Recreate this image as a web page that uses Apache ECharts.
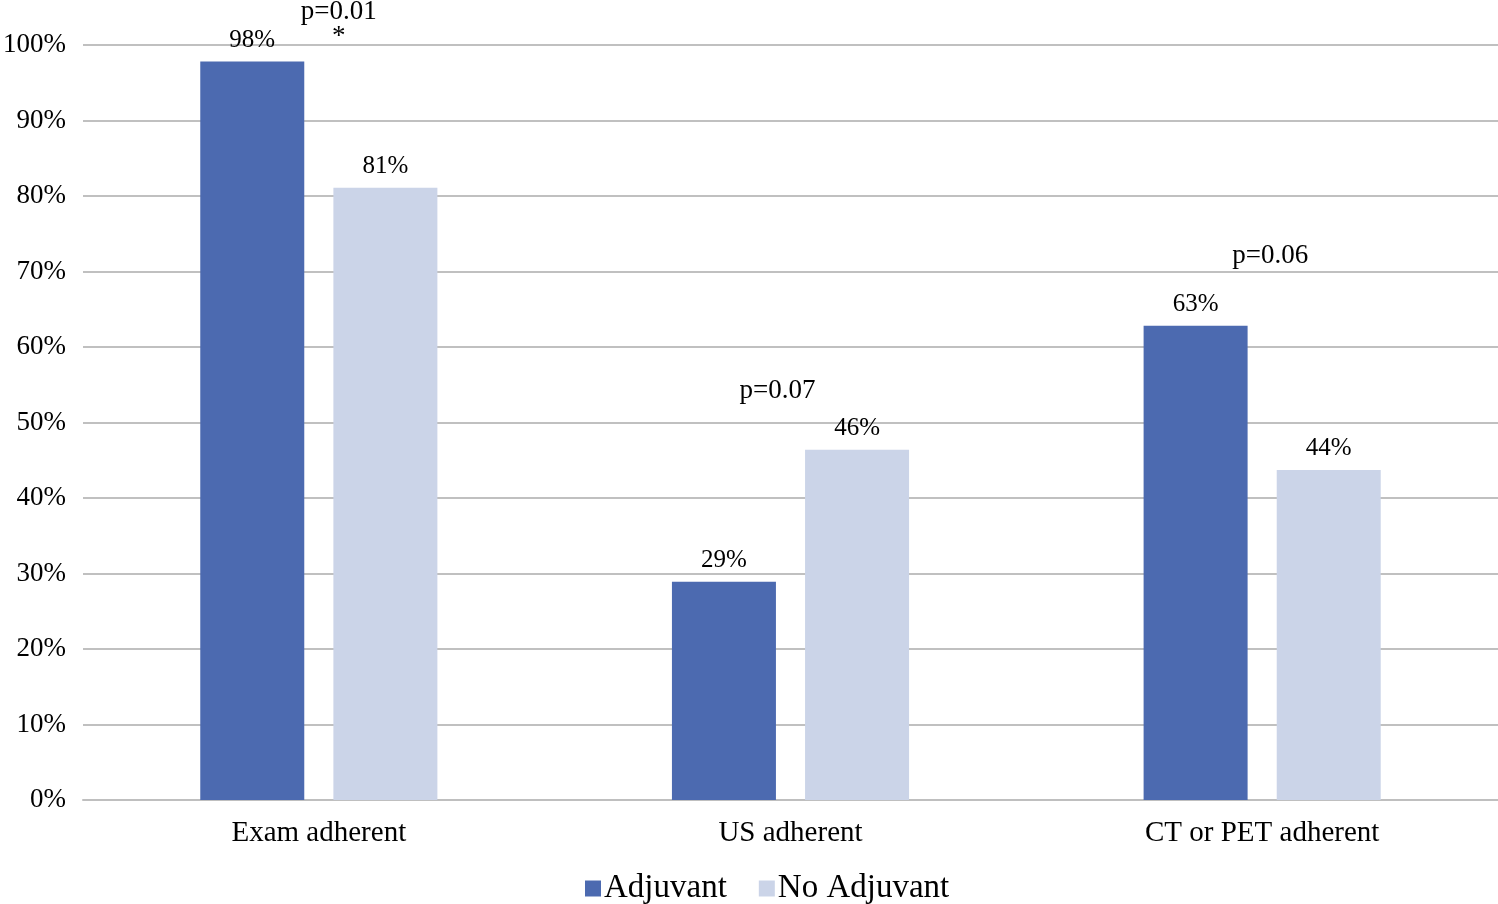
<!DOCTYPE html>
<html>
<head>
<meta charset="utf-8">
<script src="https://cdn.jsdelivr.net/npm/echarts@6/dist/echarts.min.js"></script>
<style>html,body{margin:0;padding:0;background:#fff;}#c{width:1498px;height:904px;}</style>
</head>
<body>
<div id="c"></div>
<script>
const categories = ['Exam adherent', 'US adherent', 'CT or PET adherent'];
const adjuvant = [97.8, 28.9, 62.8];
const noAdjuvant = [81.1, 46.4, 43.7];
const yTicks = [0, 10, 20, 30, 40, 50, 60, 70, 80, 90, 100];
const pCategories = ['Exam adherent', 'US adherent', 'CT or PET adherent'];
const pTexts = ['p=0.01\n*', 'p=0.07', 'p=0.06'];
const pLevels = [101.5, 54.2, 72.0];

const FONT = '"Liberation Serif", "Times New Roman", serif';
const chart = echarts.init(document.getElementById('c'));
const labelOpt = {
  show: true, position: 'top', distance: 9,
  fontFamily: FONT, fontSize: 25, color: '#000',
  formatter: p => Math.round(p.value) + '%'
};
chart.setOption({
  animation: false,
  textStyle: { fontFamily: FONT },
  grid: { left: 80, right: -4, top: 45, bottom: 104, containLabel: false },
  legend: {
    bottom: -6, left: 580, itemWidth: 16, itemHeight: 16, itemGap: 32,
    icon: 'rect',
    textStyle: { fontFamily: FONT, fontSize: 33, color: '#000', padding: [0, 0, 0, -2] },
    data: ['Adjuvant', 'No Adjuvant']
  },
  xAxis: {
    type: 'category', data: categories,
    axisLine: { show: true, lineStyle: { color: '#bfbfbf', width: 2 } },
    axisTick: { show: false },
    axisLabel: { fontFamily: FONT, fontSize: 29, color: '#000', margin: 19 }
  },
  yAxis: {
    type: 'value', min: yTicks[0], max: yTicks[yTicks.length - 1], interval: 10,
    axisLine: { show: false }, axisTick: { show: false },
    splitLine: { lineStyle: { color: '#c0c0c0', width: 2 } },
    axisLabel: { fontFamily: FONT, fontSize: 27, color: '#000', margin: 17, formatter: '{value}%' }
  },
  series: [
    { name: 'Adjuvant', type: 'bar', data: adjuvant, barWidth: 104, barGap: '28%',
      itemStyle: { color: '#4c6ab0' }, label: labelOpt },
    { name: 'No Adjuvant', type: 'bar', data: noAdjuvant, barWidth: 104, barGap: '28%',
      itemStyle: { color: '#cbd4e8' }, label: labelOpt }
  ]
});

const xOffsets = [20, -13, 8];
const graphics = pCategories.map((c, i) => {
  const pt = chart.convertToPixel({ gridIndex: 0 }, [c, pLevels[i]]);
  return {
    type: 'text', x: pt[0] + xOffsets[i], y: pt[1],
    style: { text: pTexts[i], font: '27px ' + FONT, fill: '#000',
      align: 'center', verticalAlign: i === 0 ? 'top' : 'middle', lineHeight: 25 }
  };
});
// First annotation anchored at its top edge
graphics[0].y = chart.convertToPixel({ gridIndex: 0 }, [pCategories[0], pLevels[0]])[1] - 34;
chart.setOption({ graphic: graphics });
</script>
</body>
</html>
